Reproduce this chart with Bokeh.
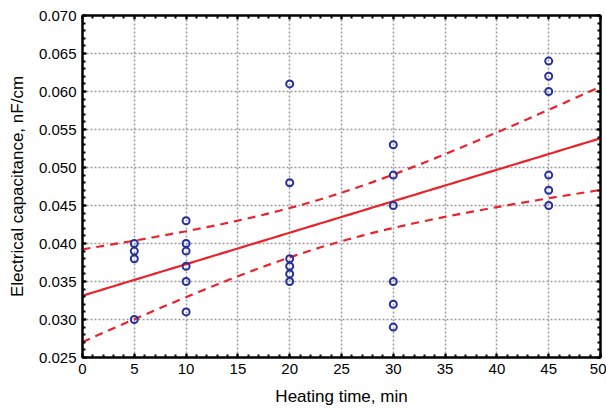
import numpy as np
from bokeh.plotting import figure
from bokeh.models import LinearAxis, Range1d, FixedTicker, PrintfTickFormatter
from bokeh.embed import file_html
from bokeh.resources import INLINE

# data
heating_time = [5, 5, 5, 5,
                10, 10, 10, 10, 10, 10,
                20, 20, 20, 20, 20, 20,
                30, 30, 30, 30, 30, 30,
                45, 45, 45, 45, 45, 45]
capacitance = [0.040, 0.039, 0.038, 0.030,
               0.043, 0.040, 0.039, 0.037, 0.035, 0.031,
               0.061, 0.048, 0.038, 0.037, 0.036, 0.035,
               0.053, 0.049, 0.045, 0.035, 0.032, 0.029,
               0.064, 0.062, 0.060, 0.049, 0.047, 0.045]
x_ticks = [0, 5, 10, 15, 20, 25, 30, 35, 40, 45, 50]
y_ticks = [0.025, 0.030, 0.035, 0.040, 0.045, 0.050, 0.055, 0.060, 0.065, 0.070]
x_minor = list(range(0, 51))
y_minor = [round(0.025 + 0.001 * i, 3) for i in range(46)]
t_crit = 2.056  # 95 %, df = 26

x = np.array(heating_time, dtype=float)
y = np.array(capacitance, dtype=float)
n = len(x)
b, a = np.polyfit(x, y, 1)
resid = y - (a + b * x)
s = np.sqrt(np.sum(resid ** 2) / (n - 2))
xm = x.mean()
sxx = np.sum((x - xm) ** 2)
xf = np.linspace(0, 50, 101)
yf = a + b * xf
half = t_crit * s * np.sqrt(1.0 / n + (xf - xm) ** 2 / sxx)

FONT = "Liberation Sans"
p = figure(width=606, height=408, output_backend="svg", toolbar_location=None,
           x_range=Range1d(0, 50), y_range=Range1d(0.025, 0.070),
           min_border_left=82, min_border_right=6, min_border_top=15, min_border_bottom=50,
           outline_line_color="black", outline_line_width=2,
           background_fill_color="white", border_fill_color="white")

for ax in p.xaxis + p.yaxis:
    ax.axis_line_color = "black"
    ax.axis_line_width = 2
    ax.major_tick_in = 4
    ax.major_tick_out = 0
    ax.minor_tick_in = 3
    ax.minor_tick_out = 0
    ax.major_tick_line_width = 2
    ax.minor_tick_line_width = 2
    ax.major_label_text_font = FONT
    ax.major_label_text_font_size = "15px"
    ax.major_label_text_color = "black"
    ax.axis_label_text_font = FONT
    ax.axis_label_text_font_size = "17px"
    ax.axis_label_text_font_style = "normal"
    ax.axis_label_text_color = "black"

p.xaxis.ticker = FixedTicker(ticks=x_ticks, minor_ticks=x_minor)
p.yaxis.ticker = FixedTicker(ticks=y_ticks, minor_ticks=y_minor)
p.yaxis.formatter = PrintfTickFormatter(format="%.3f")
p.xaxis.axis_label = "Heating time, min"
p.yaxis.axis_label = "Electrical capacitance, nF/cm"
p.xaxis.major_label_standoff = 6
p.yaxis.major_label_standoff = 6
p.xaxis.axis_label_standoff = 10
p.yaxis.axis_label_standoff = 9

# right and top axes with inward ticks, no labels
for loc in ("right", "above"):
    ax = LinearAxis()
    if loc == "right":
        ax.ticker = FixedTicker(ticks=y_ticks, minor_ticks=y_minor)
        ax.major_label_overrides = {t: "" for t in y_ticks}
    else:
        ax.ticker = FixedTicker(ticks=x_ticks, minor_ticks=x_minor)
        ax.major_label_overrides = {t: "" for t in x_ticks}
    ax.major_label_standoff = 0
    ax.axis_line_width = 2
    ax.major_tick_in = 4
    ax.major_tick_out = 0
    ax.minor_tick_in = 3
    ax.minor_tick_out = 0
    ax.major_tick_line_width = 2
    ax.minor_tick_line_width = 2
    p.add_layout(ax, loc)

p.xgrid.ticker = FixedTicker(ticks=x_ticks)
p.ygrid.ticker = FixedTicker(ticks=y_ticks)
for g in (p.xgrid, p.ygrid):
    g.grid_line_color = "#9a9a9a"
    g.grid_line_dash = "2 2"
    g.grid_line_width = 1.5

RED = "#e8232a"
p.line(xf, yf, line_color=RED, line_width=2.2)
p.line(xf, yf + half, line_color=RED, line_width=2.2, line_dash="8 6")
p.line(xf, yf - half, line_color=RED, line_width=2.2, line_dash="8 6")

p.scatter(x, y, marker="circle", size=7, fill_color=None,
          line_color="#26309a", line_width=2)

open("out.html", "w").write(file_html(p, INLINE))
